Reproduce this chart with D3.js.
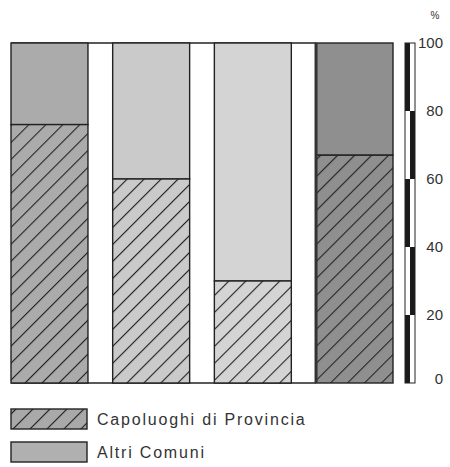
<!DOCTYPE html>
<html>
<head>
<meta charset="utf-8">
<script src="https://cdn.jsdelivr.net/npm/d3@7"></script>
<style>
  body { margin: 0; background: #fff; }
  svg { display: block; }
  text { font-family: "Liberation Sans", Arial, sans-serif; fill: #333; }
</style>
</head>
<body>
<svg width="450" height="467"></svg>
<script>
"use strict";

// dati
const categories = ["A", "B", "C", "D"];
const capoluoghi = [76, 60, 30, 67]; // quota % capoluoghi di provincia
const altri = [24, 40, 70, 33];      // quota % altri comuni
const barColors = ["#ababab", "#cacaca", "#d4d4d4", "#8f8f8f"];
const yTicks = [0, 20, 40, 60, 80, 100];
const legendLabels = ["Capoluoghi di Provincia", "Altri Comuni"];

const svg = d3.select("svg");

const x = d3.scaleBand().domain(categories).range([11, 393]).paddingInner(0.243).paddingOuter(0);
const y = d3.scaleLinear().domain([0, 100]).range([383, 43]);

// pattern tratteggiato per ogni colore
const defs = svg.append("defs");
function hatch(id, color) {
  const p = defs.append("pattern")
    .attr("id", id)
    .attr("patternUnits", "userSpaceOnUse")
    .attr("width", 12).attr("height", 12)
    .attr("patternTransform", "rotate(-45)");
  p.append("rect").attr("width", 12).attr("height", 12).attr("fill", color);
  p.append("line").attr("x1", 0).attr("y1", 0).attr("x2", 12).attr("y2", 0)
    .attr("stroke", "#222").attr("stroke-width", 2.2);
}
barColors.forEach((c, i) => hatch("h" + i, c));
hatch("hLeg", "#a9a9a9");

const data = categories.map((c, i) => ({ cat: c, cap: capoluoghi[i], alt: altri[i], i }));

const g = svg.append("g");

// linee orizzontali sopra e sotto
[0, 100].forEach((v) => {
  g.append("line")
    .attr("x1", x(categories[0])).attr("x2", x(categories[3]))
    .attr("y1", y(v)).attr("y2", y(v))
    .attr("stroke", "#222").attr("stroke-width", 1.5);
});

const bars = g.selectAll("g.bar").data(data).enter().append("g").attr("class", "bar");

bars.append("rect")
  .attr("x", (d) => x(d.cat))
  .attr("width", x.bandwidth())
  .attr("y", (d) => y(d.cap + d.alt))
  .attr("height", (d) => y(d.cap) - y(d.cap + d.alt))
  .attr("fill", (d) => barColors[d.i])
  .attr("stroke", "#222").attr("stroke-width", 1.4);

bars.append("rect")
  .attr("x", (d) => x(d.cat))
  .attr("width", x.bandwidth())
  .attr("y", (d) => y(d.cap))
  .attr("height", (d) => y(0) - y(d.cap))
  .attr("fill", (d) => "url(#h" + d.i + ")")
  .attr("stroke", "#222").attr("stroke-width", 1.4);

// bordo sinistro più spesso sull'ultima barra
g.append("line")
  .attr("x1", x("D")).attr("x2", x("D"))
  .attr("y1", y(100)).attr("y2", y(0))
  .attr("stroke", "#333").attr("stroke-width", 3);

// scala a blocchi
const segs = d3.range(0, 100, 20);
const sx = 405, sw = 5;
const scale = svg.append("g");
segs.forEach((v, k) => {
  // colonna sinistra nera nei blocchi pari, destra nei dispari
  scale.append("rect")
    .attr("x", k % 2 === 0 ? sx : sx + sw)
    .attr("y", y(v + 20)).attr("width", sw).attr("height", y(v) - y(v + 20))
    .attr("fill", "#1a1a1a");
});
scale.append("rect")
  .attr("x", sx).attr("y", y(100)).attr("width", sw * 2).attr("height", y(0) - y(100))
  .attr("fill", "none").attr("stroke", "#222").attr("stroke-width", 1);

const axis = d3.axisRight(y).tickValues(yTicks).tickSize(0).tickPadding(0);
const ax = svg.append("g").attr("transform", "translate(443,0)").call(axis);
ax.select(".domain").remove();
ax.selectAll("text").style("font-size", "15px").attr("fill", "#333")
  .attr("x", 0).style("text-anchor", "end");
ax.selectAll(".tick").filter((d) => d === 0).select("text").attr("dy", "0.0em");

svg.append("text").attr("x", 435).attr("y", 19).attr("text-anchor", "middle")
  .style("font-size", "10px").text("%");

// legenda
const leg = svg.append("g");
const legFills = ["url(#hLeg)", "#b0b0b0"];
legendLabels.forEach((t, i) => {
  const ly = 409 + i * 33;
  leg.append("rect").attr("x", 11).attr("y", ly).attr("width", 76).attr("height", 20)
    .attr("fill", legFills[i]).attr("stroke", "#222").attr("stroke-width", 1.4);
  leg.append("text").attr("x", 97).attr("y", ly + 16)
    .style("font-size", "16px").style("letter-spacing", "1.8px").text(t);
});
</script>
</body>
</html>
